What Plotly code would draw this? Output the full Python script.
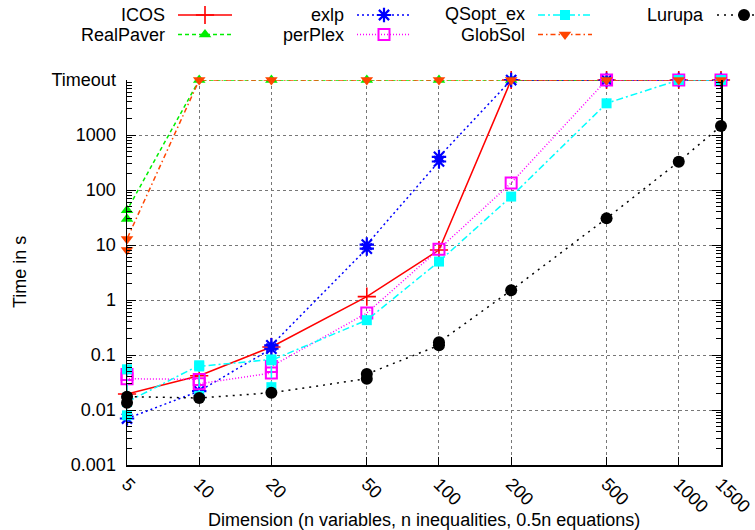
import math
import plotly.graph_objects as go

# reference canvas
W, H = 755, 530

T = 10000  # "Timeout" level

x_ticks = [5, 10, 20, 50, 100, 200, 500, 1000, 1500]
x_ticktext = ["5", "10", "20", "50", "100", "200", "500", "1000", "1500"]
y_ticks = [0.001, 0.01, 0.1, 1, 10, 100, 1000, T]
y_ticktext = ["0.001", "0.01", "0.1", "1", "10", "100", "1000", "Timeout"]

icos_x = [5, 10, 20, 50, 100, 200, 500, 1000, 1500]
icos_y = [0.0195, 0.042, 0.14, 1.15, 8.1, T, T, T, T]

realpaver_x = [5, 5, 10, 20, 50, 100, 200, 500, 1000, 1500]
realpaver_y = [29.7, 43, T, T, T, T, T, T, T, T]

exlp_x = [5, 10, 20, 20, 50, 50, 100, 100, 200, 500, 1000, 1500]
exlp_y = [0.007, 0.022, 0.13, 0.15, 8.6, 10.2, 330, 400, T, T, T, T]

perplex_x = [5, 5, 10, 10, 20, 20, 50, 100, 200, 500, 1000, 1500]
perplex_y = [0.044, 0.037, 0.036, 0.03, 0.047, 0.062, 0.58, 8.4, 134, T, T, T]

qsopt_x = [5, 5, 5, 10, 10, 10, 20, 20, 20, 50, 100, 200, 500, 1000, 1500]
qsopt_y = [0.055, 0.008, 0.014, 0.065, 0.018, 0.062, 0.083, 0.026, 0.08,
           0.43, 5.0, 76, 3770, T, T]

globsol_x = [5, 5, 10, 20, 50, 100, 200, 500, 1000, 1500]
globsol_y = [8.1, 12.9, T, T, T, T, T, T, T, T]

lurupa_x = [5, 5, 10, 20, 50, 50, 100, 100, 200, 500, 1000, 1500]
lurupa_y = [0.0135, 0.0175, 0.0165, 0.0206, 0.037, 0.045, 0.15, 0.17, 1.5, 30.5, 327, 1460]

series = [
    # name, x, y, color, dash, symbol, size, marker line width
    ("ICOS", icos_x, icos_y, "#ff0000", "solid", "cross-thin", 13, 1.6),
    ("RealPaver", realpaver_x, realpaver_y, "#00ee00", "4px,3px", "triangle-up", 11, 0),
    ("exlp", exlp_x, exlp_y, "#0000ff", "2px,3px", "asterisk-open", 12, 2.2),
    ("perPlex", perplex_x, perplex_y, "#ff00ff", "1px,2px", "square-open", 11, 2),
    ("QSopt_ex", qsopt_x, qsopt_y, "#00ffff", "7px,3px,2px,3px", "square", 10, 0),
    ("GlobSol", globsol_x, globsol_y, "#ff4500", "5px,3px,1.5px,3px", "triangle-down", 11, 0),
    ("Lurupa", lurupa_x, lurupa_y, "#000000", "2px,5px", "circle", 12, 0),
]

FONT = "Liberation Sans, Arial, Helvetica, sans-serif"


def px(x):
    return x / W


def py(y):
    return 1 - y / H


fig = go.Figure()
for name, xs, ys, col, dash, sym, size, lw in series:
    fig.add_trace(go.Scatter(
        x=xs, y=ys, mode="lines+markers", name=name,
        line=dict(color=col, width=1.5, dash=dash),
        marker=dict(symbol=sym, size=size, color=col,
                    line=dict(color=col, width=lw)),
        cliponaxis=False, showlegend=False,
        xaxis="x", yaxis="y"))

# legend keys (gnuplot style: text then sample), drawn on a pixel-space overlay axis
leg_cols = [178, 357, 538, 717]
leg_rows = [15, 34.5]
leg_len = 54
annotations = []
for i, (name, xs, ys, col, dash, sym, size, lw) in enumerate(series):
    c, r = i // 2, i % 2
    x0 = leg_cols[c]
    y0 = leg_rows[r]
    fig.add_trace(go.Scatter(
        x=[x0, x0 + leg_len], y=[y0, y0], mode="lines",
        line=dict(color=col, width=1.5, dash=dash),
        showlegend=False, hoverinfo="skip", cliponaxis=False,
        xaxis="x2", yaxis="y2"))
    fig.add_trace(go.Scatter(
        x=[x0 + leg_len / 2], y=[y0], mode="markers",
        marker=dict(symbol=sym, size=size, color=col,
                    line=dict(color=col, width=lw)),
        showlegend=False, hoverinfo="skip", cliponaxis=False,
        xaxis="x2", yaxis="y2"))
    annotations.append(dict(
        x=px(x0 - 12), y=py(y0), xref="paper", yref="paper",
        text=name, showarrow=False, xanchor="right", yanchor="middle",
        borderpad=0,
        font=dict(family=FONT, size=18, color="black")))

annotations.append(dict(
    x=px(424), y=py(520), xref="paper", yref="paper",
    text="Dimension (n variables, n inequalities, 0.5n equations)",
    showarrow=False, xanchor="center", yanchor="middle",
    font=dict(family=FONT, size=18, color="black")))
annotations.append(dict(
    x=px(20), y=py(272), xref="paper", yref="paper",
    text="Time in s", textangle=-90,
    showarrow=False, xanchor="center", yanchor="middle",
    font=dict(family=FONT, size=18, color="black")))

minor_y = [m * 10 ** k for k in range(-3, 4) for m in range(2, 10)]

L, R, TOP, BOT = 127, 721, 80, 465

fig.update_layout(
    width=W, height=H,
    margin=dict(l=0, r=0, t=0, b=0),
    paper_bgcolor="white", plot_bgcolor="rgba(0,0,0,0)",
    font=dict(family=FONT, size=18, color="black"),
    showlegend=False,
    annotations=annotations,
    xaxis=dict(
        type="log", domain=[px(L), px(R)], anchor="y",
        range=[math.log10(5) - 1e-4, math.log10(1500) + 1e-4],
        tickmode="array", tickvals=x_ticks, ticktext=x_ticktext,
        tickangle=45, ticks="inside", ticklen=8, tickcolor="black",
        showline=True, linecolor="black", linewidth=1.5,
        showgrid=True, gridcolor="#777777", griddash="dot", gridwidth=1,
        zeroline=False, automargin=False,
        tickfont=dict(family=FONT, size=18, color="black"),
    ),
    yaxis=dict(
        type="log", domain=[py(BOT), py(TOP)], anchor="x",
        range=[-3 - 1e-4, 4 + 1e-4],
        tickmode="array", tickvals=y_ticks, ticktext=y_ticktext,
        ticks="inside", ticklen=9, tickcolor="black",
        minor=dict(tickmode="array", tickvals=minor_y, ticks="inside",
                   ticklen=5, tickcolor="black", showgrid=False),
        showline=True, linecolor="black", linewidth=1.5, mirror="ticks",
        showgrid=True, gridcolor="#777777", griddash="dot", gridwidth=1,
        zeroline=False, automargin=False, ticklabelstandoff=6,
        tickfont=dict(family=FONT, size=18, color="black"),
    ),
    xaxis2=dict(domain=[0, 1], anchor="y2", range=[0, W], visible=False,
                fixedrange=True),
    yaxis2=dict(domain=[0, 1], anchor="x2", range=[H, 0], visible=False,
                fixedrange=True),
)

fig.write_html("out.html",
               config={"displayModeBar": False, "staticPlot": True},
               post_script="document.body.style.margin='0';"
                           "document.body.style.overflow='hidden';")
